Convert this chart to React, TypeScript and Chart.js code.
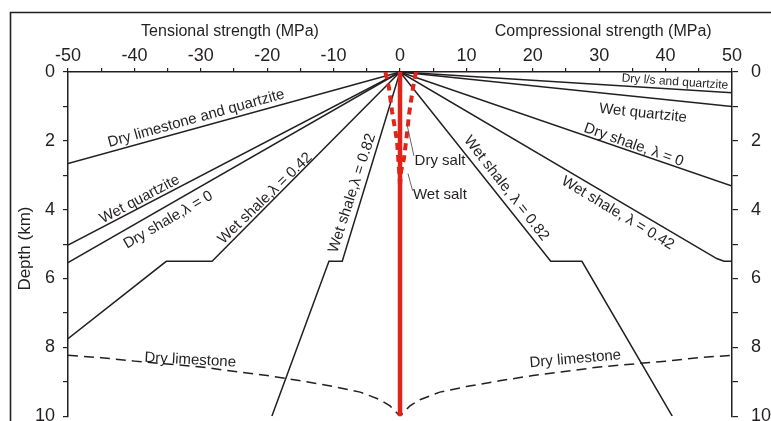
import React, { useEffect, useRef } from "react";
import { Chart, registerables } from "chart.js";

Chart.register(...registerables);

// ---- Data: x = strength in MPa (negative = tensional), depth in km ----
// Tensional (left) envelopes
const tDryLsQtzX = [0, -50];
const tDryLsQtzDepth = [0, 2.66];
const tWetQtzX = [0, -50];
const tWetQtzDepth = [0, 5.03];
const tDryShaleX = [0, -50];
const tDryShaleDepth = [0, 5.54];
const tWetShale042X = [0, -28.3, -35.2, -50];
const tWetShale042Depth = [0, 5.5, 5.5, 7.75];
const tWetShale082X = [0, -8.7, -10.7, -19.3];
const tWetShale082Depth = [0, 5.5, 5.5, 10];

// Compressional (right) envelopes
const cDryLsQtzX = [0, 50];
const cDryLsQtzDepth = [0, 0.6];
const cWetQtzX = [0, 50];
const cWetQtzDepth = [0, 1.0];
const cDryShaleX = [0, 50];
const cDryShaleDepth = [0, 3.31];
const cWetShale042X = [0, 47.7, 48.8, 50];
const cWetShale042Depth = [0, 5.42, 5.5, 5.5];
const cWetShale082X = [0, 22.7, 27.4, 41];
const cWetShale082Depth = [0, 5.5, 5.5, 10];

// Dry limestone (dashed curve)
const dryLimeX = [-50, -45, -40, -30, -20, -15, -10, -6, -3, -1.5, 0, 1.5, 3, 6, 10, 15, 20, 30, 40, 45, 50];
const dryLimeDepth = [8.23, 8.3, 8.4, 8.57, 8.82, 8.97, 9.14, 9.3, 9.52, 9.7, 10, 9.7, 9.52, 9.3, 9.14, 8.97, 8.82, 8.57, 8.4, 8.3, 8.23];

// Salt
const wetSaltX = [0, 0];
const wetSaltDepth = [0, 10];
const drySaltTX = [-2.2, -1.66, -1.2, -0.45, -0.1, 0];
const drySaltTDepth = [0, 0.46, 1.14, 2.0, 2.95, 3.3];
const drySaltCX = [2.4, 1.96, 1.36, 1.05, 0.6, 0.15, 0];
const drySaltCDepth = [0, 0.46, 1.23, 1.8, 2.51, 2.89, 3.3];

// Tick labels
const xTickLabels = ["-50", "-40", "-30", "-20", "-10", "0", "10", "20", "30", "40", "50"];
const yTickLabels = ["0", "2", "4", "6", "8", "10"];

// Curve labels: text, x (MPa), depth (km), rotation (deg)
const labelTexts = [
  "Dry limestone and quartzite",
  "Wet quartzite",
  "Dry shale,λ = 0",
  "Wet shale,λ = 0.42",
  "Wet shale,λ = 0.82",
  "Dry l/s and quartzite",
  "Wet quartzite",
  "Dry shale, λ = 0",
  "Wet shale, λ = 0.42",
  "Wet shale, λ = 0.82",
  "Dry limestone",
  "Dry limestone",
];
const labelX = [-30.7, -39.2, -34.9, -20.3, -7.2, 41.4, 36.6, 35.2, 32.8, 16.0, -31.6, 26.4];
const labelDepth = [1.35, 3.7, 4.3, 3.67, 3.52, 0.29, 1.2, 2.12, 4.1, 3.38, 8.37, 8.34];
const labelRot = [-15.6, -27.9, -30.2, -44, -72, 4, 6, 19.3, 31, 52, 3, -5];
const labelSize = [15, 15, 15, 15, 15, 12, 15, 15, 15, 15, 15, 15];

const FONT = '"Liberation Sans", Arial, Helvetica, sans-serif';
const INK = "#231f20";
const RED = "#e2231a";

function pts(xs: number[], ds: number[]) {
  return xs.map((x, i) => ({ x, y: ds[i] }));
}

function blackLine(xs: number[], ds: number[]) {
  return {
    data: pts(xs, ds),
    borderColor: INK,
    borderWidth: 1.5,
    showLine: true,
    pointRadius: 0,
    tension: 0,
    fill: false,
  };
}

const annotations = {
  id: "annotations",
  afterDatasetsDraw(chart: any) {
    const { ctx } = chart;
    const xs = chart.scales.x;
    const ys = chart.scales.y;
    ctx.save();
    ctx.fillStyle = INK;
    ctx.textBaseline = "middle";
    labelTexts.forEach((t, i) => {
      ctx.save();
      ctx.translate(xs.getPixelForValue(labelX[i]), ys.getPixelForValue(labelDepth[i]));
      ctx.rotate((labelRot[i] * Math.PI) / 180);
      ctx.font = `${labelSize[i]}px ${FONT}`;
      ctx.textAlign = "center";
      ctx.fillText(t, 0, 0);
      ctx.restore();
    });
    // salt labels + leaders
    ctx.font = `15px ${FONT}`;
    ctx.textAlign = "left";
    ctx.fillText("Dry salt", xs.getPixelForValue(2.2), ys.getPixelForValue(2.58));
    ctx.fillText("Wet salt", xs.getPixelForValue(1.95), ys.getPixelForValue(3.58));
    ctx.strokeStyle = "#555";
    ctx.lineWidth = 0.9;
    ctx.beginPath();
    ctx.moveTo(xs.getPixelForValue(1.05), ys.getPixelForValue(1.52));
    ctx.lineTo(xs.getPixelForValue(2.1), ys.getPixelForValue(2.44));
    ctx.moveTo(xs.getPixelForValue(1.2), ys.getPixelForValue(2.95));
    ctx.lineTo(xs.getPixelForValue(1.9), ys.getPixelForValue(3.45));
    ctx.stroke();
    ctx.restore();
  },
  afterDraw(chart: any) {
    const { ctx } = chart;
    const xs = chart.scales.x;
    const ys = chart.scales.y;
    ctx.save();
    ctx.fillStyle = INK;
    ctx.font = `16px ${FONT}`;
    ctx.textAlign = "center";
    ctx.textBaseline = "middle";
    ctx.fillText("Tensional strength (MPa)", xs.getPixelForValue(-25.6), 32);
    ctx.fillText("Compressional strength (MPa)", xs.getPixelForValue(30.6), 32);
    ctx.save();
    ctx.font = `17px ${FONT}`;
    ctx.translate(25, ys.getPixelForValue(5.13));
    ctx.rotate(-Math.PI / 2);
    ctx.fillText("Depth (km)", 0, 0);
    ctx.restore();
    // outer frame
    ctx.strokeStyle = INK;
    ctx.lineWidth = 1.6;
    ctx.beginPath();
    ctx.moveTo(10.5, 500);
    ctx.lineTo(10.5, 12.5);
    ctx.lineTo(800, 12.5);
    ctx.stroke();
    ctx.restore();
  },
};

export default function App() {
  const ref = useRef<HTMLCanvasElement | null>(null);

  useEffect(() => {
    if (!ref.current) return;
    const tickX = (v: number) => {
      const idx = xTickLabels.indexOf(String(v));
      return idx >= 0 ? xTickLabels[idx] : "";
    };
    const tickY = (v: number) => {
      const idx = yTickLabels.indexOf(String(v));
      return idx >= 0 ? yTickLabels[idx] : "";
    };
    const chart = new Chart(ref.current, {
      type: "scatter",
      data: {
        datasets: [
          {
            data: pts(wetSaltX, wetSaltDepth),
            borderColor: RED,
            borderWidth: 4.5,
            showLine: true,
            pointRadius: 0,
          },
          {
            data: pts(drySaltTX, drySaltTDepth),
            borderColor: RED,
            borderWidth: 4,
            borderDash: [7, 5],
            showLine: true,
            pointRadius: 0,
          },
          {
            data: pts(drySaltCX, drySaltCDepth),
            borderColor: RED,
            borderWidth: 4,
            borderDash: [7, 5],
            showLine: true,
            pointRadius: 0,
          },
          blackLine(tDryLsQtzX, tDryLsQtzDepth),
          blackLine(tWetQtzX, tWetQtzDepth),
          blackLine(tDryShaleX, tDryShaleDepth),
          blackLine(tWetShale042X, tWetShale042Depth),
          blackLine(tWetShale082X, tWetShale082Depth),
          blackLine(cDryLsQtzX, cDryLsQtzDepth),
          blackLine(cWetQtzX, cWetQtzDepth),
          blackLine(cDryShaleX, cDryShaleDepth),
          blackLine(cWetShale042X, cWetShale042Depth),
          blackLine(cWetShale082X, cWetShale082Depth),
          { ...blackLine(dryLimeX, dryLimeDepth), borderDash: [10, 6], borderWidth: 1.5 },
        ],
      },
      options: {
        responsive: false,
        animation: false,
        devicePixelRatio: 1,
        layout: { padding: { top: 0, left: 0, right: 0, bottom: 19 } },
        plugins: { legend: { display: false }, tooltip: { enabled: false } },
        scales: {
          x: {
            type: "linear",
            position: "top",
            min: -50,
            max: 50,
            afterFit: (s: any) => {
              s.height = 72;
            },
            ticks: {
              stepSize: 5,
              autoSkip: false,
              maxRotation: 0,
              callback: (v: any) => tickX(v),
              font: { size: 18, family: FONT },
              color: INK,
              padding: 1,
            },
            grid: { drawOnChartArea: false, tickLength: 4, color: INK, lineWidth: 1.2 },
            border: { color: INK, width: 1.5 },
          },
          y: {
            type: "linear",
            position: "left",
            reverse: true,
            min: 0,
            max: 10,
            afterFit: (s: any) => {
              s.width = 68;
            },
            ticks: {
              stepSize: 1,
              autoSkip: false,
              callback: (v: any) => tickY(v),
              font: { size: 18, family: FONT },
              color: INK,
              padding: 8,
            },
            grid: { drawOnChartArea: false, tickLength: 5, color: INK, lineWidth: 1.2 },
            border: { color: INK, width: 1.5 },
          },
          y2: {
            type: "linear",
            position: "right",
            reverse: true,
            min: 0,
            max: 10,
            afterFit: (s: any) => {
              s.width = 39;
            },
            ticks: {
              stepSize: 1,
              autoSkip: false,
              callback: (v: any) => tickY(v),
              font: { size: 18, family: FONT },
              color: INK,
              padding: 13,
            },
            grid: { drawOnChartArea: false, tickLength: 6, color: INK, lineWidth: 1.2 },
            border: { color: INK, width: 1.5 },
          },
        },
      },
      plugins: [annotations],
    } as any);
    return () => chart.destroy();
  }, []);

  return (
    <div
      style={{
        position: "fixed",
        left: 0,
        top: 0,
        width: 771,
        height: 421,
        overflow: "hidden",
        background: "#fff",
      }}
    >
      <canvas ref={ref} width={771} height={440} style={{ display: "block" }} />
    </div>
  );
}
